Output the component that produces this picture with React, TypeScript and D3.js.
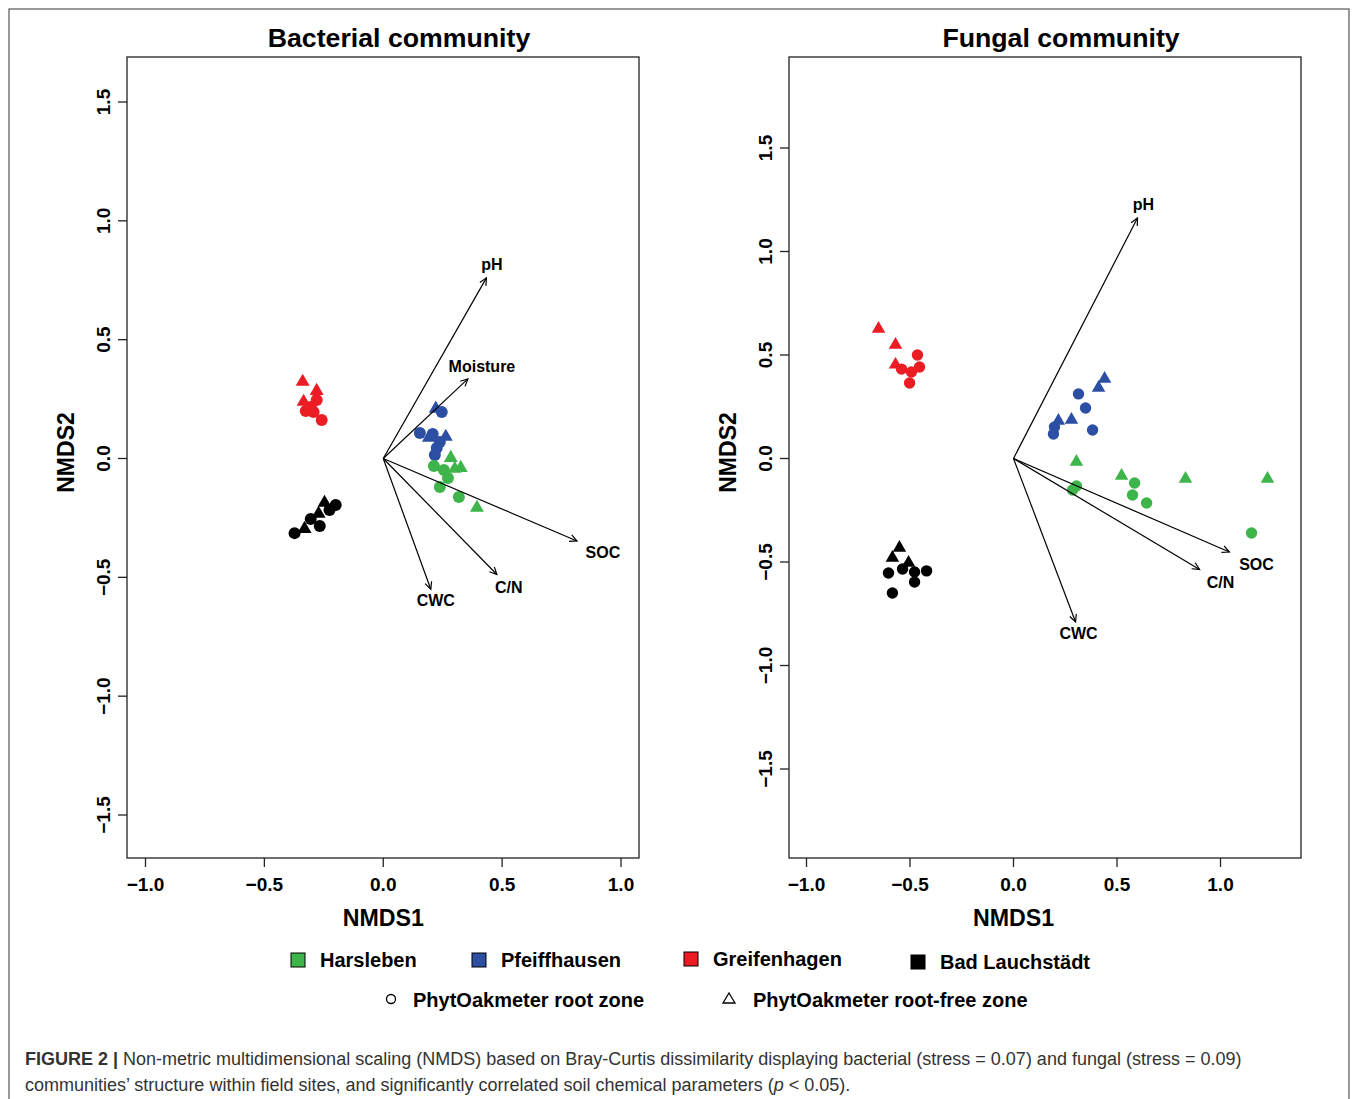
import React from 'react';
import * as d3 from 'd3';

// ---- data ----
const sites = ['Harsleben', 'Pfeiffhausen', 'Greifenhagen', 'Bad Lauchstädt'];
const siteColors = ['#3db54a', '#2c4fa3', '#ec1c24', '#000000'];
const zones = ['PhytOakmeter root zone', 'PhytOakmeter root-free zone'];

// bacterial NMDS scores: [NMDS1, NMDS2, siteIndex, zone(0 circle,1 triangle)]
const bacPoints = [
  [-0.339, 0.326, 2, 1], [-0.28, 0.288, 2, 1], [-0.335, 0.242, 2, 1],
  [-0.28, 0.246, 2, 0], [-0.326, 0.2, 2, 0], [-0.293, 0.196, 2, 0], [-0.259, 0.162, 2, 0], [-0.305, 0.217, 2, 0],
  [0.221, 0.213, 1, 1], [0.192, 0.091, 1, 1], [0.263, 0.095, 1, 1],
  [0.154, 0.107, 1, 0], [0.208, 0.103, 1, 0], [0.246, 0.196, 1, 0], [0.238, 0.069, 1, 0], [0.225, 0.044, 1, 0], [0.217, 0.015, 1, 0],
  [0.284, 0.006, 0, 1], [0.326, -0.036, 0, 1], [0.394, -0.204, 0, 1], [0.301, -0.04, 0, 1],
  [0.213, -0.032, 0, 0], [0.255, -0.048, 0, 0], [0.272, -0.082, 0, 0], [0.238, -0.12, 0, 0], [0.318, -0.162, 0, 0],
  [-0.331, -0.293, 3, 1], [-0.247, -0.183, 3, 1], [-0.272, -0.229, 3, 1],
  [-0.373, -0.314, 3, 0], [-0.305, -0.255, 3, 0], [-0.267, -0.284, 3, 0], [-0.226, -0.217, 3, 0], [-0.2, -0.196, 3, 0],
];

const fungPoints = [
  [-0.652, 0.63, 2, 1], [-0.57, 0.553, 2, 1], [-0.57, 0.457, 2, 1],
  [-0.464, 0.5, 2, 0], [-0.541, 0.432, 2, 0], [-0.493, 0.418, 2, 0], [-0.454, 0.442, 2, 0], [-0.502, 0.365, 2, 0],
  [0.44, 0.389, 1, 1], [0.411, 0.345, 1, 1], [0.217, 0.186, 1, 1], [0.28, 0.191, 1, 1],
  [0.314, 0.312, 1, 0], [0.348, 0.244, 1, 0], [0.198, 0.152, 1, 0], [0.382, 0.138, 1, 0], [0.193, 0.118, 1, 0],
  [0.304, -0.012, 0, 1], [0.522, -0.08, 0, 1], [0.831, -0.094, 0, 1], [1.227, -0.094, 0, 1],
  [0.304, -0.133, 0, 0], [0.285, -0.152, 0, 0], [0.585, -0.118, 0, 0], [0.575, -0.176, 0, 0], [0.643, -0.215, 0, 0], [1.15, -0.36, 0, 0],
  [-0.551, -0.428, 3, 1], [-0.585, -0.476, 3, 1], [-0.507, -0.5, 3, 1],
  [-0.604, -0.553, 3, 0], [-0.536, -0.534, 3, 0], [-0.478, -0.548, 3, 0], [-0.42, -0.543, 3, 0], [-0.478, -0.597, 3, 0], [-0.585, -0.65, 3, 0],
];

// envfit vectors: name, x, y, label x, label y
const bacVectors = [
  ['pH', 0.434, 0.76, 0.457, 0.818],
  ['Moisture', 0.356, 0.335, 0.415, 0.389],
  ['SOC', 0.815, -0.347, 0.924, -0.394],
  ['C/N', 0.478, -0.488, 0.528, -0.541],
  ['CWC', 0.2, -0.55, 0.221, -0.596],
];
const fungVectors = [
  ['pH', 0.599, 1.162, 0.628, 1.229],
  ['SOC', 1.043, -0.452, 1.174, -0.51],
  ['C/N', 0.899, -0.536, 1.0, -0.597],
  ['CWC', 0.3, -0.79, 0.314, -0.843],
];

const xTicks = [-1, -0.5, 0, 0.5, 1];
const yTicks = [-1.5, -1, -0.5, 0, 0.5, 1, 1.5];

const FONT = "'Liberation Sans', Arial, Helvetica, sans-serif";
const fmt = (v: number) => d3.format('.1f')(v).replace('-', '\u2212');

function Panel({ title, box, xRange, yRange, points, vectors, r, tri }: any) {
  const x = d3.scaleLinear().domain([-1, 1]).range(xRange);
  const y = d3.scaleLinear().domain([-1.5, 1.5]).range(yRange);
  const [x0, x1, y0, y1] = box;
  const ox = x(0), oy = y(0);
  const triPath = (cx: number, cy: number) => {
    const h = tri * 0.866;
    return `M${cx},${cy - h * 0.6}L${cx + tri / 2},${cy + h * 0.4}L${cx - tri / 2},${cy + h * 0.4}Z`;
  };
  return (
    <g>
      <text x={(x0 + x1) / 2 + 16} y={47} textAnchor="middle" fontSize={26.7} fontWeight="bold" fontFamily={FONT}>{title}</text>
      <rect x={x0} y={y0} width={x1 - x0} height={y1 - y0} fill="none" stroke="#222" strokeWidth={1.3} />
      {xTicks.map(t => (
        <g key={'x' + t}>
          <line x1={x(t)} x2={x(t)} y1={y1} y2={y1 + 9} stroke="#222" strokeWidth={1.3} />
          <text x={x(t)} y={891} textAnchor="middle" fontSize={19} fontWeight="bold" fontFamily={FONT}>{fmt(t)}</text>
        </g>
      ))}
      {yTicks.map(t => (
        <g key={'y' + t}>
          <line x1={x0} x2={x0 - 9} y1={y(t)} y2={y(t)} stroke="#222" strokeWidth={1.3} />
          <text transform={`translate(${x0 - 17},${y(t)}) rotate(-90)`} textAnchor="middle" fontSize={19} fontWeight="bold" fontFamily={FONT}>{fmt(t)}</text>
        </g>
      ))}
      <text x={ox} y={926} textAnchor="middle" fontSize={23.2} fontWeight="bold" fontFamily={FONT}>NMDS1</text>
      <text transform={`translate(${x0 - 53},${oy - 6}) rotate(-90)`} textAnchor="middle" fontSize={23} fontWeight="bold" fontFamily={FONT}>NMDS2</text>
      {points.map((p: number[], i: number) => {
        const cx = x(p[0]), cy = y(p[1]);
        const col = siteColors[p[2]];
        return p[3] === 0
          ? <circle key={i} cx={cx} cy={cy} r={r} fill={col} />
          : <path key={i} d={triPath(cx, cy)} fill={col} />;
      })}
      {vectors.map((v: any[]) => {
        const ex = x(v[1]), ey = y(v[2]);
        const ang = Math.atan2(ey - oy, ex - ox);
        const L = 8, a = Math.PI / 7;
        const h1 = [ex - L * Math.cos(ang - a), ey - L * Math.sin(ang - a)];
        const h2 = [ex - L * Math.cos(ang + a), ey - L * Math.sin(ang + a)];
        return (
          <g key={v[0]}>
            <line x1={ox} y1={oy} x2={ex} y2={ey} stroke="#000" strokeWidth={1.2} />
            <path d={`M${h1[0]},${h1[1]}L${ex},${ey}L${h2[0]},${h2[1]}`} fill="none" stroke="#000" strokeWidth={1.2} />
            <text x={x(v[3])} y={y(v[4]) + 6} textAnchor="middle" fontSize={16} fontWeight="bold" fontFamily={FONT}>{v[0]}</text>
          </g>
        );
      })}
    </g>
  );
}

export default function App() {
  const legendSites = [[298, 960], [479, 960], [691, 959], [918, 962]];
  return (
    <svg width={1358} height={1099} style={{ position: 'absolute', left: 0, top: 0, background: '#fff' }}>
      <rect x={0} y={0} width={1358} height={1099} fill="#fff" />
      <rect x={9} y={9} width={1340} height={1100} fill="none" stroke="#555" strokeWidth={1.2} />
      <Panel title="Bacterial community" box={[127, 639, 57, 858]} xRange={[145.5, 621]} yRange={[815, 102]}
        points={bacPoints} vectors={bacVectors} r={6} tri={14} />
      <Panel title="Fungal community" box={[789, 1301, 57, 858]} xRange={[806.5, 1220.5]} yRange={[769, 148]}
        points={fungPoints} vectors={fungVectors} r={5.7} tri={13.5} />
      {sites.map((s, i) => (
        <g key={s}>
          <rect x={legendSites[i][0] - 7} y={legendSites[i][1] - 7} width={14} height={14} fill={siteColors[i]} stroke="#000" strokeWidth={1} />
          <text x={legendSites[i][0] + 22} y={legendSites[i][1] + 7} fontSize={20} fontWeight="bold" fontFamily={FONT}>{s}</text>
        </g>
      ))}
      <circle cx={391} cy={999} r={4.5} fill="none" stroke="#000" strokeWidth={1.3} />
      <text x={413} y={1007} fontSize={20} fontWeight="bold" fontFamily={FONT}>{zones[0]}</text>
      <path d="M729,993L735,1003L723,1003Z" fill="none" stroke="#000" strokeWidth={1.3} />
      <text x={753} y={1007} fontSize={20} fontWeight="bold" fontFamily={FONT}>{zones[1]}</text>
      <text x={25} y={1065} fontSize={18} fill="#333" fontFamily={FONT}>
        <tspan fontWeight="bold">FIGURE 2 |</tspan> Non-metric multidimensional scaling (NMDS) based on Bray-Curtis dissimilarity displaying bacterial (stress = 0.07) and fungal (stress = 0.09)
      </text>
      <text x={25} y={1091} fontSize={18} fill="#333" fontFamily={FONT}>
        communities’ structure within field sites, and significantly correlated soil chemical parameters (<tspan fontStyle="italic">p</tspan> &lt; 0.05).
      </text>
    </svg>
  );
}
